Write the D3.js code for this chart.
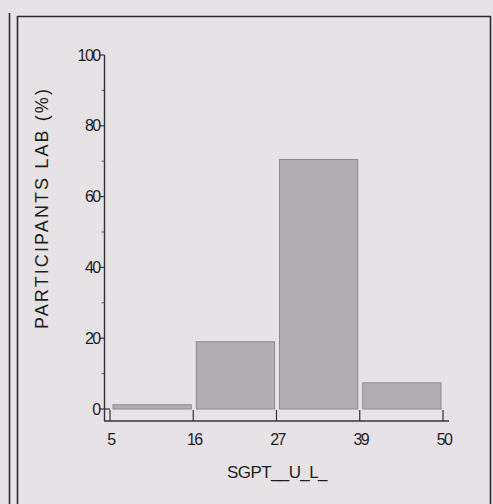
<!DOCTYPE html>
<html><head><meta charset="utf-8">
<script src="https://cdn.jsdelivr.net/npm/d3@7"></script>
<style>
html,body{margin:0;padding:0;background:#e7e2e6;}
svg{display:block;}
text{font-family:"Liberation Sans",Arial,sans-serif;fill:#1e1e1e;}
</style></head>
<body>
<svg id="c" width="493" height="504"></svg>
<script>
const binEdges = ["5","16","27","39","50"];
const binValues = [1.2, 19.0, 70.5, 7.4];
const yTicks = [0,20,40,60,80,100];
const yMinorTicks = [10,30,50,70,90];
const xTitle = "SGPT__U_L_";
const yTitle = "PARTICIPANTS LAB (%)";

const svg = d3.select("#c");
svg.append("rect").attr("width",493).attr("height",504).attr("fill","#e7e2e6");

// panel frames
svg.append("line").attr("x1",9.5).attr("x2",9.5).attr("y1",13).attr("y2",504)
  .attr("stroke","#2c2c2c").attr("stroke-width",1.6);
svg.append("path").attr("d","M17.5,504 V16.5 H490.5 V504")
  .attr("fill","none").attr("stroke","#2c2c2c").attr("stroke-width",1.6);

const x = d3.scalePoint().domain(binEdges).range([110,443]);
const y = d3.scaleLinear().domain([0,100]).range([409,55]);
const axisY = 421;

// bars
const bins = binValues.map((v,i)=>({v, a:binEdges[i], b:binEdges[i+1]}));
svg.append("g").selectAll("rect").data(bins).join("rect")
  .attr("x", d=>x(d.a)+3)
  .attr("width", d=>x(d.b)-x(d.a)-5)
  .attr("y", d=>y(d.v))
  .attr("height", d=>y(0)-y(d.v))
  .attr("fill","#b1aeb1").attr("stroke","#8e8b8e").attr("stroke-width",1);

// y axis
const gy = svg.append("g").attr("transform","translate(104.5,0)");
gy.append("line").attr("y1",y(100)).attr("y2",axisY).attr("stroke","#333").attr("stroke-width",1.4);
gy.selectAll("line.maj").data(yTicks).join("line").attr("class","maj")
  .attr("x1",-5).attr("x2",0).attr("y1",d=>y(d)).attr("y2",d=>y(d))
  .attr("stroke","#333").attr("stroke-width",1.2);
gy.selectAll("line.min").data(yMinorTicks).join("line").attr("class","min")
  .attr("x1",-3).attr("x2",0).attr("y1",d=>y(d)).attr("y2",d=>y(d))
  .attr("stroke","#555").attr("stroke-width",1);
gy.selectAll("text").data(yTicks).join("text")
  .attr("x",-5).attr("y",d=>y(d)+5.5)
  .attr("text-anchor","end").attr("font-size",16).attr("letter-spacing",-1.6)
  .text(d=>d);
// small connector at origin
svg.append("path").attr("d",`M104.5,${y(0)} H110`).attr("stroke","#333").attr("stroke-width",1.2).attr("fill","none");

// x axis
const gx = svg.append("g");
gx.append("line").attr("x1",104).attr("x2",449).attr("y1",axisY).attr("y2",axisY)
  .attr("stroke","#333").attr("stroke-width",1.4);
gx.selectAll("line.t").data(binEdges).join("line").attr("class","t")
  .attr("x1",d=>x(d)).attr("x2",d=>x(d)).attr("y1",axisY).attr("y2",axisY-11)
  .attr("stroke","#333").attr("stroke-width",1.2);
gx.selectAll("text").data(binEdges).join("text")
  .attr("x",d=>x(d)+1).attr("y",445)
  .attr("text-anchor","middle").attr("font-size",16).attr("letter-spacing",-1.6)
  .text(d=>d);

// titles
svg.append("text").attr("x",277).attr("y",478).attr("text-anchor","middle")
  .attr("font-size",17).attr("letter-spacing",-0.6).text(xTitle);
svg.append("text").attr("transform","translate(48,208) rotate(-90)")
  .attr("text-anchor","middle").attr("font-size",18).attr("letter-spacing",2.1)
  .text(yTitle);
</script>
</body></html>
